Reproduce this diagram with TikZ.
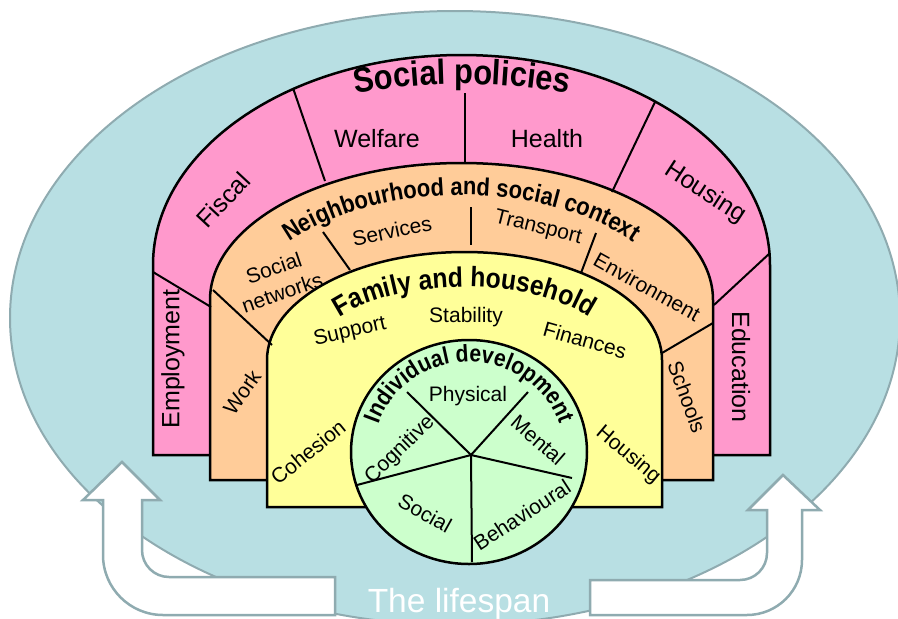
\documentclass[tikz,border=0pt]{standalone}
\usepackage{fontspec}
\setmainfont{Liberation Sans}
\newfontfamily\titlefont{Liberation Sans}[FakeStretch=0.88]
\usetikzlibrary{decorations.text}

\definecolor{lifeblue}{HTML}{B8DFE3}
\definecolor{rimgray}{HTML}{8FABB0}
\definecolor{policypink}{HTML}{FF99CC}
\definecolor{neighorange}{HTML}{FFCC99}
\definecolor{familyyellow}{HTML}{FFFF99}
\definecolor{indivgreen}{HTML}{CCFFCC}

\begin{document}
\begin{tikzpicture}[x=1pt, y=1pt,
    band/.style={draw=black, line width=2.5pt},
    divider/.style={draw=black, line width=2pt},
    rim/.style={draw=rimgray, line width=2pt},
    bigword/.style={font=\fontsize{25}{30}\selectfont, inner sep=0pt},
    word/.style={font=\fontsize{21}{26}\selectfont, inner sep=0pt}]
  \useasboundingbox (0,0) rectangle (898,-619);

  \filldraw[fill=lifeblue, rim] (455,-318) ellipse [x radius=445, y radius=307];

  % the two bent arrows
  \filldraw[fill=white, rim, line width=2.5pt] (122,-462) -- (160,-500) -- (142,-500) -- (142,-550)
    arc[start angle=180, end angle=270, radius=27] -- (335,-577) -- (335,-615) -- (163,-615)
    arc[start angle=270, end angle=180, radius=60] -- (103,-500) -- (83,-500) -- cycle;
  \filldraw[fill=white, rim, line width=2.5pt] (783,-475) -- (820,-510) -- (802,-510) -- (802,-560)
    arc[start angle=0, end angle=-90, radius=55] -- (590,-615) -- (590,-580) -- (740,-580)
    arc[start angle=-90, end angle=0, radius=27] -- (767,-510) -- (748,-510) -- cycle;

  \filldraw[fill=policypink, band] (153,-455) -- (153,-265)
    arc[start angle=180, end angle=0, x radius=308.5, y radius=210] -- (770,-455) -- cycle;
  \filldraw[fill=neighorange, band] (210,-480) -- (210,-300)
    arc[start angle=180, end angle=0, x radius=251.5, y radius=137] -- (713,-480) -- cycle;
  \filldraw[fill=familyyellow, band] (267,-507) -- (267,-360)
    arc[start angle=180, end angle=0, x radius=197.5, y radius=108] -- (662,-507) -- cycle;
  \filldraw[fill=indivgreen, band] (469,-452) ellipse [x radius=118, y radius=112];

  \foreach \from/\to in {{293,-88}/{325,-181}, {465,-93}/{465,-163}, {655,-102}/{612,-192},
      {153,-272}/{211,-307}, {770,-253}/{714,-305},
      {323,-232}/{350,-270}, {471,-207}/{471,-245}, {596,-233}/{581,-273},
      {213,-290}/{272,-345}, {713,-323}/{662,-353}}
    \draw[divider] (\from) -- (\to);

  \coordinate (hub) at (471,-455);
  \foreach \spoke in {{407,-392}, {528,-392}, {572,-478}, {472,-562}, {357,-485}}
    \draw[divider] (hub) -- (\spoke);

  \node[bigword] (welfare) at (377,-139) {Welfare};
  \node[bigword] (health) at (547,-139) {Health};
  \node[bigword, rotate=47] (fiscal) at (223,-200) {Fiscal};
  \node[bigword, rotate=-33] (housingpol) at (705,-193) {Housing};
  \node[bigword, rotate=90] (employment) at (173,-359) {Employment};
  \node[bigword, rotate=-90] (education) at (741,-367) {Education};

  \node[word, rotate=19, align=center] (socnet) at (278,-280) {Social\\networks};
  \node[word, rotate=12] (services) at (392,-231) {Services};
  \node[word, rotate=-14] (transport) at (538,-228) {Transport};
  \node[word, rotate=-29] (environment) at (647,-287) {Environment};
  \node[word, rotate=55] (work) at (242,-392) {Work};
  \node[word, rotate=-70] (schools) at (687,-397) {Schools};

  \node[word, rotate=13] (support) at (350,-332) {Support};
  \node[word] (stability) at (466,-317) {Stability};
  \node[word, rotate=-16] (finances) at (585,-340) {Finances};
  \node[word, rotate=39] (cohesion) at (308,-452) {Cohesion};
  \node[word, rotate=-40] (housinghh) at (628,-455) {Housing};

  \node[word] (physical) at (468,-396) {Physical};
  \node[word, rotate=-41] (mental) at (538,-440) {Mental};
  \node[word, rotate=33] (behavioural) at (522,-515) {Behavioural};
  \node[word, rotate=-29] (social) at (425,-513) {Social};
  \node[word, rotate=44] (cognitive) at (400,-450) {Cognitive};

  \node[font=\fontsize{33.5}{40}\selectfont, text=white, anchor=base, inner sep=0pt] (lifespan)
    at (459,-612) {The lifespan};

  % titles along the arches
  \path[decorate, decoration={text along path, text align=center,
      text={|\titlefont\bfseries\fontsize{35}{40}\selectfont|Social policies}}]
    (256.8,-120.2) arc[start angle=110, end angle=70, radius=600];
  \path[decorate, decoration={text along path, text align=center,
      text={|\titlefont\bfseries\fontsize{25}{30}\selectfont|Neighbourhood and social context}}]
    (253.05,-275.83) arc[start angle=155, end angle=25, x radius=230, y radius=140];
  \path[decorate, decoration={text along path, text align=center,
      text={|\titlefont\bfseries\fontsize{28}{32}\selectfont|Family and household}}]
    (319.61,-337.4) arc[start angle=165, end angle=15, x radius=150, y radius=68];
  \path[decorate, decoration={text along path, text align=center,
      text={|\titlefont\bfseries\fontsize{24}{28}\selectfont|Individual development}}]
    (374.36,-444.16) arc[start angle=175, end angle=5, x radius=95, y radius=90];
\end{tikzpicture}
\end{document}
